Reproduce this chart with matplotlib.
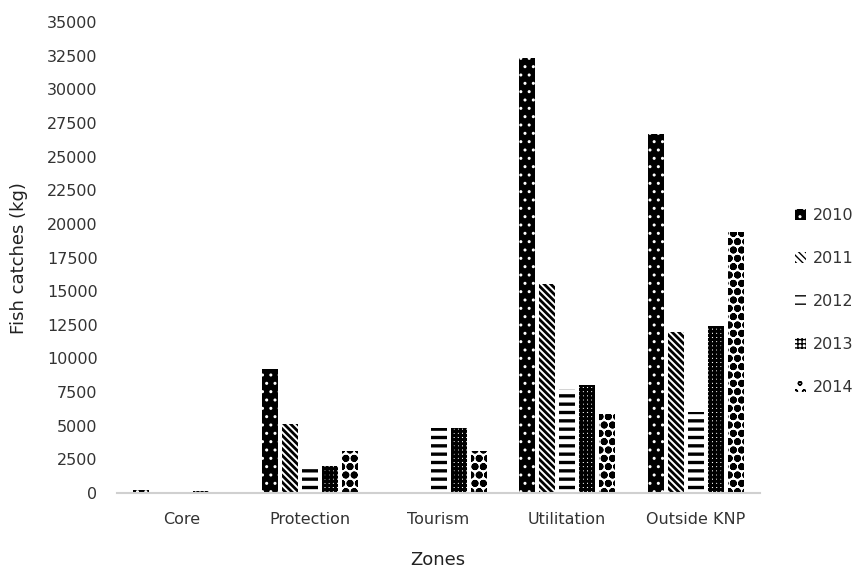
import matplotlib
matplotlib.use("Agg")
import matplotlib.pyplot as plt
import numpy as np

zones = ["Core", "Protection", "Tourism", "Utilitation", "Outside KNP"]
years = ["2010", "2011", "2012", "2013", "2014"]
v2010 = [250, 9200, 0, 32300, 26700]
v2011 = [100, 5150, 0, 15500, 11950]
v2012 = [0, 2000, 4800, 7700, 6000]
v2013 = [150, 2000, 4800, 8000, 12400]
v2014 = [0, 3100, 3150, 5900, 19400]
series = [v2010, v2011, v2012, v2013, v2014]
yticks = list(range(0, 35001, 2500))

plt.rcParams['font.family'] = ['DejaVu Sans']

styles = [
    dict(facecolor='black', edgecolor='white', hatch='..', hlw=1.0),
    dict(facecolor='white', edgecolor='black', hatch='\\\\\\\\\\', hlw=2.0),
    dict(facecolor='white', edgecolor='black', hatch='--', hlw=2.4),
    dict(facecolor='white', edgecolor='black', hatch='++++', hlw=2.2),
    dict(facecolor='white', edgecolor='black', hatch='oo', hlw=2.6),
]

fig = plt.figure(figsize=(8.56, 5.69), dpi=100)
ax = fig.add_axes([0.1367, 0.1336, 0.7513, 0.8277])

x = np.arange(len(zones))
w = 0.125
step = 0.1555
handles = []
for i, (vals, st) in enumerate(zip(series, styles)):
    with plt.rc_context({'hatch.linewidth': st['hlw']}):
        b = ax.bar(x + (i - 2) * step, vals, width=w, facecolor=st['facecolor'],
                   edgecolor=st['edgecolor'], hatch=st['hatch'], linewidth=0,
                   label=years[i])
    handles.append(b)

ax.set_xlim(-0.5, len(zones) - 0.5)
ax.set_ylim(0, 35000)
ax.set_yticks(yticks)
ax.set_yticklabels([str(t) for t in yticks], fontsize=11.5, color='#333333')
ax.set_xticks(x)
ax.set_xticklabels(zones, fontsize=11.5, color='#333333')
ax.tick_params(axis='y', length=0, pad=14)
ax.tick_params(axis='x', length=0, pad=14)
for s in ['top', 'right', 'left']:
    ax.spines[s].set_visible(False)
ax.spines['bottom'].set_color('#d0d0d0')
ax.spines['bottom'].set_linewidth(1.5)

fig.text(0.022, 0.5472, "Fish catches (kg)", rotation=90, ha='center', va='center',
         fontsize=13, color='#222222')
fig.text(0.511, 0.016, "Zones", ha='center', va='center', fontsize=13, color='#222222')

leg = fig.legend(handles=handles, labels=years, loc='center left',
                 bbox_to_anchor=(0.912, 0.47), frameon=False, fontsize=11.5,
                 handlelength=0.7, handleheight=0.7, handletextpad=0.4,
                 labelspacing=1.75)
for t in leg.get_texts():
    t.set_color('#333333')

fig.savefig("out.png", dpi=100)
